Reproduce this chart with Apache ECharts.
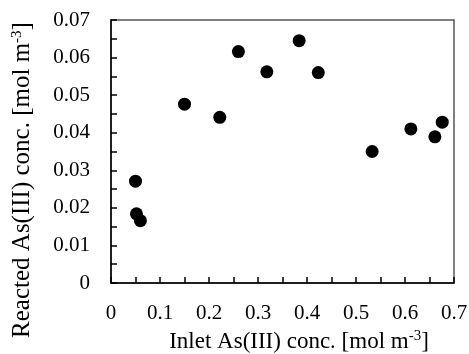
<!DOCTYPE html>
<html>
<head>
<meta charset="utf-8">
<script src="https://cdn.jsdelivr.net/npm/echarts@6/dist/echarts.min.js"></script>
<style>
html, body { margin: 0; padding: 0; background: #fff; }
#chart { width: 469px; height: 354px; }
</style>
</head>
<body>
<div id="chart"></div>
<script>
// 数据：入口浓度与反应量
const inletConc = [0.050, 0.052, 0.060, 0.150, 0.222, 0.260, 0.318, 0.384, 0.423, 0.533, 0.612, 0.661, 0.676];
const reactedConc = [0.0271, 0.0184, 0.0166, 0.0476, 0.0441, 0.0616, 0.0562, 0.0645, 0.0560, 0.0350, 0.0410, 0.0389, 0.0428];

const points = inletConc.map((x, i) => [x, reactedConc[i]]);

let myChart = echarts.init(document.getElementById('chart'));

const font = 'Liberation Serif';
const axisColor = '#000';

const supStyle = { fontSize: 15, fontFamily: font, color: '#000', verticalAlign: 'top', padding: [0, 0, 10, 0] };

option = {
    backgroundColor: '#fff',
    animation: false,
    grid: {
        left: 111,
        right: 15,
        top: 20,
        bottom: 71,
        show: true,
        borderColor: '#555',
        borderWidth: 1.5,
        outerBoundsMode: 'none'
    },
    xAxis: {
        type: 'value',
        min: 0,
        max: 0.7,
        interval: 0.1,
        minorTick: { show: true, splitNumber: 2, length: 6, lineStyle: { color: axisColor, width: 1.5 } },
        axisTick: { inside: true, length: 6, lineStyle: { color: axisColor, width: 1.5 } },
        axisLine: { lineStyle: { color: axisColor, width: 1.5 } },
        axisLabel: { fontFamily: font, fontSize: 21, color: '#000', margin: 20 },
        splitLine: { show: false },
        name: 'Inlet As(III) conc. [mol m{sup|-3}]',
        nameLocation: 'middle',
        nameGap: 46,
        nameMoveOverlap: false,
        nameTextStyle: { fontFamily: font, fontSize: 23, color: '#000', padding: [0, 0, 0, 33], rich: { sup: supStyle } }
    },
    yAxis: {
        type: 'value',
        min: 0,
        max: 0.07,
        interval: 0.01,
        minorTick: { show: true, splitNumber: 2, length: 6, lineStyle: { color: axisColor, width: 1.5 } },
        axisTick: { inside: true, length: 6, lineStyle: { color: axisColor, width: 1.5 } },
        axisLine: { lineStyle: { color: axisColor, width: 1.5 } },
        axisLabel: { fontFamily: font, fontSize: 21, color: '#000', margin: 21 },
        splitLine: { show: false },
        name: 'Reacted As(III) conc. [mol m{sup|-3}]',
        nameLocation: 'middle',
        nameGap: 76,
        nameRotate: 90,
        nameMoveOverlap: false,
        nameTextStyle: { fontFamily: font, fontSize: 25, color: '#000', padding: [0, 57, 0, 0], rich: { sup: supStyle } }
    },
    series: [
        {
            type: 'scatter',
            data: points,
            symbol: 'circle',
            symbolSize: 13,
            itemStyle: { color: '#000', opacity: 1 }
        }
    ]
};

myChart.setOption(option);
</script>
</body>
</html>
